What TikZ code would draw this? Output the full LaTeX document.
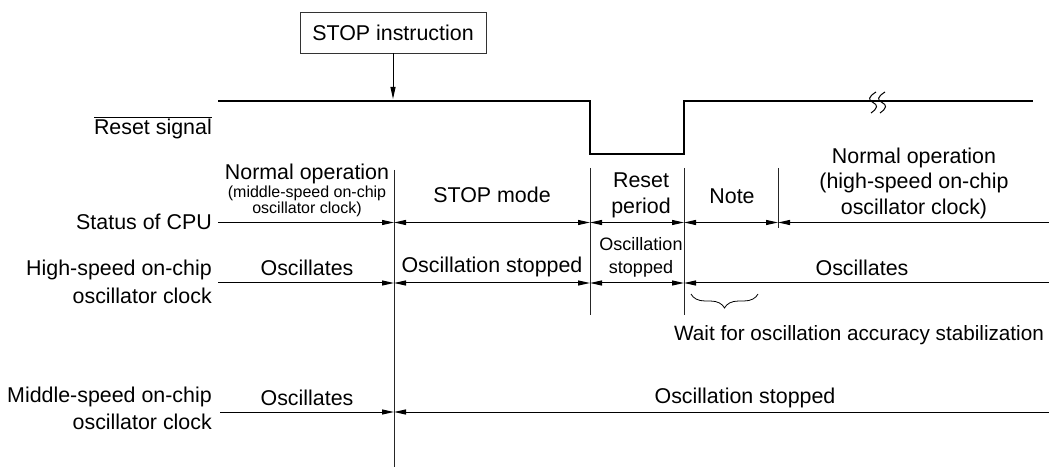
\documentclass[tikz,border=0pt]{standalone}
\usepackage{fontspec}
\setmainfont{Liberation Sans}
\usetikzlibrary{arrows.meta,decorations.pathreplacing}
\begin{document}
\begin{tikzpicture}[x=1pt,y=-1pt,
  >={Triangle[length=12pt,width=5pt]},
  txt/.style={font=\fontsize{21.4}{25.5}\selectfont, inner sep=0pt, align=center},
  sml/.style={font=\fontsize{16}{13.5}\selectfont, inner sep=0pt, align=center},
  mid/.style={font=\fontsize{18}{23}\selectfont, inner sep=0pt, align=center},
  lbl/.style={font=\fontsize{21.4}{27.5}\selectfont, inner sep=0pt, align=right, anchor=east},
  thin line/.style={line width=1pt},
  signal/.style={line width=2pt, line join=miter},
  sep/.style={line width=0.9pt, black!85}
]
\useasboundingbox (0,0) rectangle (1049,470);

% STOP instruction
\node[txt, draw, black!80, text=black, line width=0.9pt, minimum width=186pt, minimum height=41pt] (stop) at (393,32.5) {STOP instruction};
\coordinate (sa) at (393,99);
\draw[thin line,->] (stop) -- (sa);

% Reset signal
\node[lbl] (rsl) at (212,128) {$\overline{\hbox{Reset signal}}$};
\coordinate (r0) at (218,101.5);
\coordinate (r1) at (590,101.5);
\coordinate (r2) at (590,154);
\coordinate (r3) at (684,154);
\coordinate (r4) at (684,101.5);
\coordinate (r5) at (1033,101.5);
\draw[signal] (r0) -- (r1) -- (r2) -- (r3) -- (r4) -- (r5);
% break mark
\coordinate (k1) at (876,92);
\coordinate (k2) at (885,92);
\draw[thin line] (k1) .. controls (868,97) and (868,100) .. (873,102.5) .. controls (878,105) and (878,108) .. (871,113);
\draw[thin line] (k2) .. controls (877,97) and (877,100) .. (882,102.5) .. controls (887,105) and (887,108) .. (880,113);

% separators
\coordinate (v1t) at (394,170); \coordinate (v1b) at (394,467);
\coordinate (v2t) at (590,168); \coordinate (v2b) at (590,315);
\coordinate (v3t) at (684,168); \coordinate (v3b) at (684,315);
\coordinate (v4t) at (778,168); \coordinate (v4b) at (778,228);
\draw[sep] (v1t) -- (v1b);
\draw[sep] (v2t) -- (v2b);
\draw[sep] (v3t) -- (v3b);
\draw[sep] (v4t) -- (v4b);

% Status of CPU row
\node[lbl] (scpu) at (212,222) {Status of CPU};
\coordinate (s0) at (218,222.5);
\coordinate (s1) at (394,222.5);
\coordinate (s2) at (590,222.5);
\coordinate (s3) at (684,222.5);
\coordinate (s4) at (778,222.5);
\coordinate (s5) at (1049,222.5);
\draw[thin line,->] (s0) -- (s1);
\draw[thin line,<->] (s1) -- (s2);
\draw[thin line,<->] (s2) -- (s3);
\draw[thin line,<->] (s3) -- (s4);
\draw[thin line,<-] (s4) -- (s5);
\node[txt, anchor=base, text depth=0pt] (no1) at (307,179.5) {Normal operation};
\node[sml, anchor=north] (no1b) at (307,185.5) {(middle-speed on-chip\\oscillator clock)};
\node[txt] (stm) at (492,195) {STOP mode};
\node[txt] (rp) at (641,195.5) {Reset\\period};
\node[txt] (note) at (732,196) {Note};
\node[txt] (no2) at (914,183) {Normal operation\\(high-speed on-chip\\oscillator clock)};

% High-speed row
\node[lbl] (hsl) at (212,282) {High-speed on-chip\\oscillator clock};
\coordinate (h0) at (218,283);
\coordinate (h1) at (394,283);
\coordinate (h2) at (590,283);
\coordinate (h3) at (684,283);
\coordinate (h4) at (1049,283);
\draw[thin line,->] (h0) -- (h1);
\draw[thin line,<->] (h1) -- (h2);
\draw[thin line,<->] (h2) -- (h3);
\draw[thin line,<-] (h3) -- (h4);
\node[txt] (hos1) at (307,268) {Oscillates};
\node[txt] (hst) at (492,267) {Oscillation stopped};
\node[mid] (hst2) at (641,257.5) {Oscillation\\stopped};
\node[txt] (hos2) at (862,268) {Oscillates};

% brace
\coordinate (b1) at (691,294);
\coordinate (b2) at (758,294);
\draw[line width=0.8pt, decorate, decoration={brace, mirror, amplitude=14pt}] (b1) -- (b2);
\node[txt, font=\fontsize{20.7}{25}\selectfont, anchor=west] (wait) at (674,335) {Wait for oscillation accuracy stabilization};

% Middle-speed row
\node[lbl] (msl) at (212,408.5) {Middle-speed on-chip\\oscillator clock};
\coordinate (m0) at (220,412);
\coordinate (m1) at (394,412);
\coordinate (m2) at (1049,412);
\draw[thin line,->] (m0) -- (m1);
\draw[thin line,<-] (m1) -- (m2);
\node[txt] (mos) at (307,398) {Oscillates};
\node[txt] (mst) at (745,398) {Oscillation stopped};
\end{tikzpicture}
\end{document}
